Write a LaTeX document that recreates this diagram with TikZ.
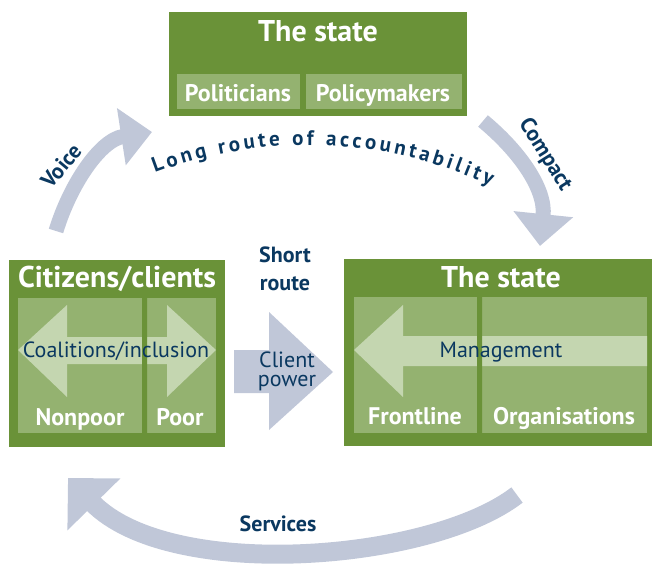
\documentclass[tikz,border=0pt]{standalone}
\usepackage{fontspec}
\setmainfont{PT Sans}
\usetikzlibrary{arrows.meta,decorations.text}
\definecolor{boxgreen}{RGB}{106,146,56}
\definecolor{subgreen}{RGB}{148,178,112}
\definecolor{palegreen}{RGB}{196,214,176}
\definecolor{routegrey}{RGB}{192,199,216}
\definecolor{inkblue}{RGB}{10,56,96}
\tikzset{
  bigbox/.style={fill=boxgreen, anchor=north west, inner sep=0pt},
  subbox/.style={fill=subgreen, anchor=north west, inner sep=0pt},
  boxtitle/.style={anchor=base, text=white, inner sep=0pt, font=\bfseries\fontsize{30}{30}\selectfont},
  sublabel/.style={anchor=base, text=white, inner sep=0pt, font=\bfseries\fontsize{24}{24}\selectfont},
  innerlabel/.style={anchor=base, text=inkblue, inner sep=0pt, font=\fontsize{22}{22}\selectfont},
  routelabel/.style={text=inkblue, inner sep=0pt, font=\bfseries\fontsize{22}{22}\selectfont},
  route/.style={draw=routegrey, line width=15pt},
}
\begin{document}
\begin{tikzpicture}[x=1pt, y=-1pt]
    \useasboundingbox (0,0) rectangle (652,564);
    % the three boxes
    \node[bigbox, minimum width=298pt, minimum height=104pt] (T) at (169,12) {};
    \node[subbox, minimum width=123pt, minimum height=35pt] (T-1) at (177,74) {};
    \node[subbox, minimum width=156pt, minimum height=35pt] (T-2) at (306,74) {};
    \node[bigbox, minimum width=216pt, minimum height=187pt] (C) at (9,260) {};
    \node[subbox, minimum width=124pt, minimum height=135pt] (C-1) at (18,298) {};
    \node[subbox, minimum width=69pt, minimum height=135pt] (C-2) at (147,298) {};
    \node[bigbox, minimum width=308pt, minimum height=187pt] (S) at (344,259) {};
    \node[subbox, minimum width=123pt, minimum height=136pt] (S-1) at (354,297) {};
    \node[subbox, minimum width=165pt, minimum height=136pt] (S-2) at (482,297) {};
    % arrows inside the boxes
    \fill[palegreen] (18,350) -- (67,305) -- (67,337) -- (167,337) -- (167,305) -- (216,350)
        -- (167,397) -- (167,364) -- (67,364) -- (67,397) -- cycle;
    \fill[palegreen] (354,350) -- (403,305) -- (403,336) -- (647,336) -- (647,366)
        -- (403,366) -- (403,397) -- cycle;
    \fill[boxgreen] (142,298) rectangle (147,433) (477,297) rectangle (482,433);
    % short route
    \fill[routegrey] (234,350) -- (269,350) -- (269,312) -- (333,372) -- (269,430)
        -- (269,393) -- (234,393) -- cycle;
    % long route
    \coordinate (v-1) at (56,231);
    \coordinate (v-2) at (152,132);
    \coordinate (c-1) at (483,121);
    \coordinate (c-2) at (540,246);
    \coordinate (s-1) at (517,495);
    \coordinate (s-2) at (68,478);
    \draw[route, -{Triangle[length=31pt,width=56pt]}] (v-1) .. controls (70,185) and (100,140) .. (v-2);
    \draw[route, -{Triangle[length=32pt,width=58pt]}] (c-1) .. controls (518,150) and (546,188) .. (c-2);
    \draw[route, line width=19pt, -{Triangle[length=37pt,width=72pt]}] (s-1) .. controls (430,562) and (170,582) .. (s-2);
    \path[decorate, decoration={text along path, text align={fit to path},
        text format delimiters={|}{|}, text color=inkblue,
        text={|\bfseries\fontsize{21}{21}\selectfont|Long route of accountability}}]
        (155,173) .. controls (264,132) and (385,136) .. (490,186);
    % labels
    \node[boxtitle] (T-t) at (318,42) {The state};
    \node[sublabel] (T-1t) at (238,102) {Politicians};
    \node[sublabel] (T-2t) at (383,102) {Policymakers};
    \node[boxtitle] (C-t) at (117,287) {Citizens/clients};
    \node[sublabel] (C-1t) at (80,425) {Nonpoor};
    \node[sublabel] (C-2t) at (180,425) {Poor};
    \node[innerlabel] (C-a) at (116,357) {Coalitions/inclusion};
    \node[boxtitle] (S-t) at (501,287) {The state};
    \node[sublabel] (S-1t) at (415,424) {Frontline};
    \node[sublabel] (S-2t) at (564,424) {Organisations};
    \node[innerlabel] (S-a) at (501,357) {Management};
    \node[routelabel, anchor=base] (short) at (285,262) {Short};
    \node[routelabel, anchor=base] (short-2) at (285,290) {route};
    \node[innerlabel] (power) at (287,367) {Client};
    \node[innerlabel] (power-2) at (287,386) {power};
    \node[routelabel, rotate=50] (voice) at (61,166) {Voice};
    \node[routelabel, rotate=-58] (compact) at (545,155) {Compact};
    \node[routelabel, anchor=base] (services) at (278,531) {Services};
\end{tikzpicture}
\end{document}
